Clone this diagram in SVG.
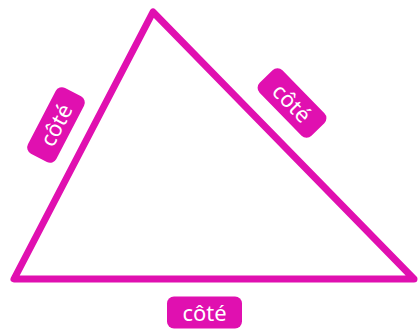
<svg xmlns="http://www.w3.org/2000/svg" width="418" height="330" viewBox="0 0 418 330">
<style>
.edge{fill:none;stroke:#e010b0;stroke-width:7;stroke-linejoin:round;stroke-linecap:round}
.lbl rect{fill:#e010b0}
.lbl text{fill:#fff;font-family:"Noto Sans","Liberation Sans",sans-serif;font-size:22px;text-anchor:middle;dominant-baseline:central}
</style>
<g id="connectors">
<path class="edge" d="M153 12 L14 279 L414 279 Z"/>
</g>
<g id="label-left" class="lbl" transform="translate(56 125) rotate(-62.5)">
<rect x="-37" y="-16" width="74" height="32" rx="7"/>
<text x="0" y="-1">côté</text>
</g>
<g id="label-right" class="lbl" transform="translate(292 103) rotate(45.6)">
<rect x="-37" y="-16" width="74" height="32" rx="7"/>
<text x="0" y="-1">côté</text>
</g>
<g id="label-bottom" class="lbl" transform="translate(204.5 312.5)">
<rect x="-37.5" y="-16" width="75" height="32" rx="7"/>
<text x="0" y="-1">côté</text>
</g>
</svg>
